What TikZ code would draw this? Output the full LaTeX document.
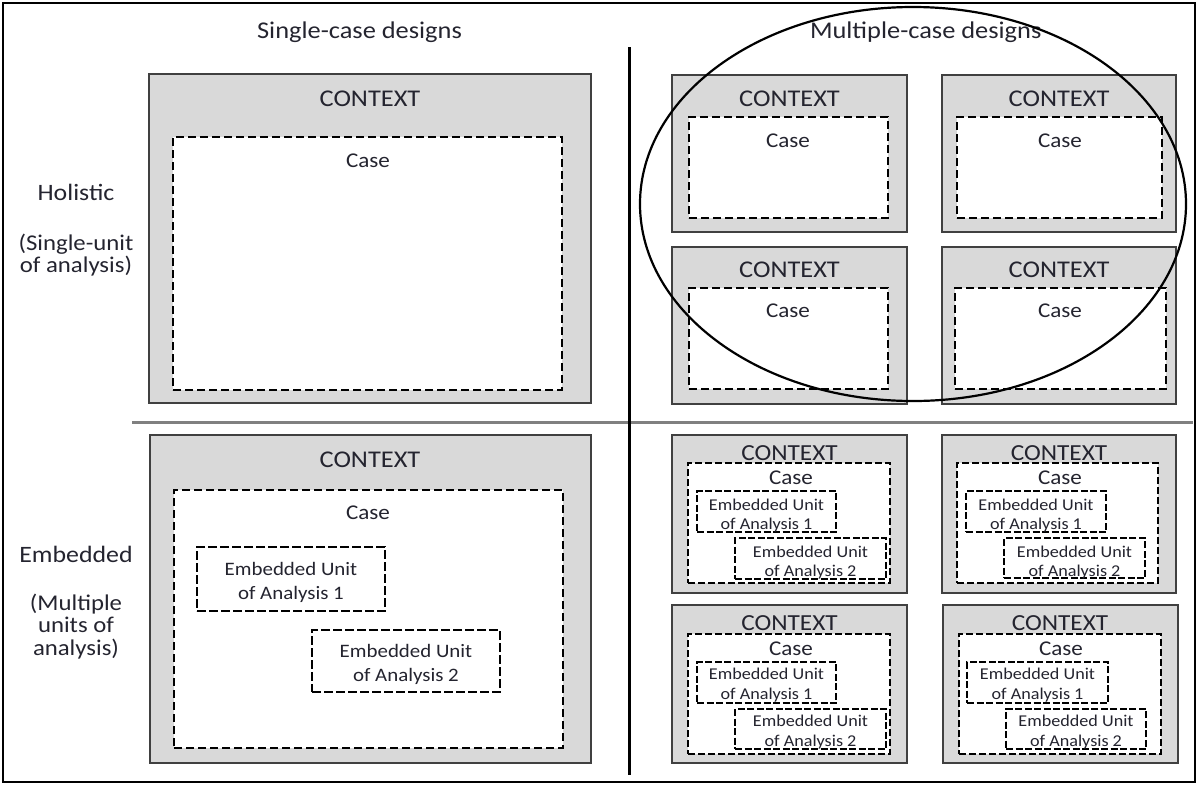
\documentclass[tikz,border=0pt]{standalone}
\usepackage{fontspec}
\setmainfont{Carlito}[FakeStretch=1.1]
\usetikzlibrary{fit,shapes.geometric}

\definecolor{ctxgray}{HTML}{D9D9D9}
\definecolor{edgegray}{HTML}{404040}
\definecolor{inkdark}{HTML}{24242F}
\definecolor{rulegray}{HTML}{808080}

\newcommand\fsz[1]{\fontsize{#1}{#1}\selectfont}

\tikzset{
  frame/.style={draw=black, line width=2pt, inner sep=0pt},
  ctxbox/.style={draw=edgegray, fill=ctxgray, line width=2pt, inner sep=0pt},
  casebox/.style={draw=black, fill=white, line width=1.6pt, dash pattern=on 8pt off 4pt, inner sep=0pt},
  smallcase/.style={casebox, line width=1.4pt, dash pattern=on 7pt off 3pt},
  unitbox/.style={draw=black, line width=1.4pt, dash pattern=on 9pt off 3pt, inner sep=0pt},
  smallunit/.style={unitbox, line width=1.2pt, dash pattern=on 7pt off 2.5pt},
  lbl/.style={inner sep=0pt, anchor=base, text=inkdark},
  heading/.style={lbl, font=\fsz{24}},
  side/.style={lbl, font=\fsz{23.5}},
  sideblock/.style={inner sep=0pt, anchor=center, text=inkdark, align=center,
                    font=\fontsize{22.5}{22.5}\selectfont},
  ctxtext/.style={lbl, font=\fsz{24}},
  smallctx/.style={lbl, font=\fsz{23}},
  casetext/.style={lbl, font=\fsz{21}},
  unittext/.style={lbl, font=\fsz{19}},
  smallunittext/.style={lbl, font=\fsz{16.5}},
  groupring/.style={draw=black, ellipse, line width=2.2pt, inner sep=0pt,
                    minimum width=546pt, minimum height=394pt},
}

\begin{document}
\begin{tikzpicture}[x=1pt,y=-1pt]
\useasboundingbox (0,0) rectangle (1197,785);

% outer frame and the two dividing rules
\node[frame, fit={(3,3)(1195,782)}] (frame) {};
\coordinate (hl) at (132,422);
\coordinate (hr) at (1193,422);
\coordinate (vt) at (629,47);
\coordinate (vb) at (629,775);
\draw[rulegray, line width=3pt] (hl) -- (hr);
\draw[black, line width=3pt] (vt) -- (vb);

% column headings and row labels
\node[heading] (h-single) at (359.5,38.5) {Single-case designs};
\node[heading] (h-multi) at (925.7,38.5) {Multiple-case designs};

\node[side] (r-hol) at (76,200) {Holistic};
\node[sideblock] (r-hol-note) at (76,255) {(Single-unit\\of analysis)};
\node[side] (r-emb) at (76,562) {Embedded};
\node[sideblock] (r-emb-note) at (76,626.5) {(Multiple\\units of\\analysis)};

% ---- single-case, holistic
\node[ctxbox, fit={(149,74)(591,403)}] (sh) {};
\node[casebox, fit={(173,137)(562,390)}] (sh-case) {};
\node[ctxtext] (sh-ctx-t) at (370,106.7) {CONTEXT};
\node[casetext] (sh-case-t) at (368,167.7) {Case};

% ---- multiple-case, holistic
\node[ctxbox, fit={(672,75)(907,232)}] (mh1) {};
\node[casebox, fit={(689,117)(888,218)}] (mh1-case) {};
\node[ctxtext] (mh1-ctx-t) at (789.5,106.7) {CONTEXT};
\node[casetext] (mh1-case-t) at (788,147.3) {Case};

\node[ctxbox, fit={(942,75)(1176,232)}] (mh2) {};
\node[casebox, fit={(957,117)(1162,218)}] (mh2-case) {};
\node[ctxtext] (mh2-ctx-t) at (1059,106.7) {CONTEXT};
\node[casetext] (mh2-case-t) at (1060,147.3) {Case};

\node[ctxbox, fit={(672,247)(907,404)}] (mh3) {};
\node[casebox, fit={(689,288)(888,389)}] (mh3-case) {};
\node[ctxtext] (mh3-ctx-t) at (789.5,277.7) {CONTEXT};
\node[casetext] (mh3-case-t) at (788,317.3) {Case};

\node[ctxbox, fit={(942,247)(1176,404)}] (mh4) {};
\node[casebox, fit={(955,288)(1166,389)}] (mh4-case) {};
\node[ctxtext] (mh4-ctx-t) at (1059,277.7) {CONTEXT};
\node[casetext] (mh4-case-t) at (1060,317.3) {Case};

% ---- single-case, embedded
\node[ctxbox, fit={(150,435)(591,763)}] (se) {};
\node[casebox, fit={(174,490)(563,748)}] (se-case) {};
\node[ctxtext] (se-ctx-t) at (370,467.3) {CONTEXT};
\node[casetext] (se-case-t) at (368,519) {Case};
\node[unitbox, fit={(197,547)(385,611)}] (se-u1) {};
\node[unittext] (se-u1-a) at (291,575.7) {Embedded Unit};
\node[unittext] (se-u1-b) at (291,599.3) {of Analysis 1};
\node[unitbox, fit={(312,630)(500,692)}] (se-u2) {};
\node[unittext] (se-u2-a) at (406,657.7) {Embedded Unit};
\node[unittext] (se-u2-b) at (406,681.7) {of Analysis 2};

% ---- multiple-case, embedded
\node[ctxbox, fit={(672,435)(907,593)}] (me1) {};
\node[smallcase, fit={(688,463)(890,583)}] (me1-case) {};
\node[smallctx] (me1-ctx-t) at (789.5,460.7) {CONTEXT};
\node[casetext] (me1-case-t) at (791,484.3) {Case};
\node[smallunit, fit={(697,491)(836,532)}] (me1-u1) {};
\node[smallunittext] (me1-u1-a) at (766.5,510) {Embedded Unit};
\node[smallunittext] (me1-u1-b) at (766.5,529) {of Analysis 1};
\node[smallunit, fit={(735,538)(886,579)}] (me1-u2) {};
\node[smallunittext] (me1-u2-a) at (810.5,557.3) {Embedded Unit};
\node[smallunittext] (me1-u2-b) at (810.5,576.7) {of Analysis 2};

\node[ctxbox, fit={(942,435)(1176,593)}] (me2) {};
\node[smallcase, fit={(957,463)(1158,583)}] (me2-case) {};
\node[smallctx] (me2-ctx-t) at (1059,460.7) {CONTEXT};
\node[casetext] (me2-case-t) at (1060,484.3) {Case};
\node[smallunit, fit={(966,491)(1106,532)}] (me2-u1) {};
\node[smallunittext] (me2-u1-a) at (1036,510) {Embedded Unit};
\node[smallunittext] (me2-u1-b) at (1036,529) {of Analysis 1};
\node[smallunit, fit={(1004,538)(1145,578)}] (me2-u2) {};
\node[smallunittext] (me2-u2-a) at (1074.5,557.3) {Embedded Unit};
\node[smallunittext] (me2-u2-b) at (1074.5,576.7) {of Analysis 2};

\node[ctxbox, fit={(672,605)(907,763)}] (me3) {};
\node[smallcase, fit={(688,634)(890,754)}] (me3-case) {};
\node[smallctx] (me3-ctx-t) at (789.5,630) {CONTEXT};
\node[casetext] (me3-case-t) at (791,655) {Case};
\node[smallunit, fit={(697,662)(836,703)}] (me3-u1) {};
\node[smallunittext] (me3-u1-a) at (766.5,679.3) {Embedded Unit};
\node[smallunittext] (me3-u1-b) at (766.5,699.3) {of Analysis 1};
\node[smallunit, fit={(735,709)(886,749)}] (me3-u2) {};
\node[smallunittext] (me3-u2-a) at (810.5,726) {Embedded Unit};
\node[smallunittext] (me3-u2-b) at (810.5,746.7) {of Analysis 2};

\node[ctxbox, fit={(943,605)(1178,763)}] (me4) {};
\node[smallcase, fit={(959,634)(1161,754)}] (me4-case) {};
\node[smallctx] (me4-ctx-t) at (1060,630) {CONTEXT};
\node[casetext] (me4-case-t) at (1061,655) {Case};
\node[smallunit, fit={(967,662)(1108,703)}] (me4-u1) {};
\node[smallunittext] (me4-u1-a) at (1037.5,679.3) {Embedded Unit};
\node[smallunittext] (me4-u1-b) at (1037.5,699.3) {of Analysis 1};
\node[smallunit, fit={(1006,709)(1146,749)}] (me4-u2) {};
\node[smallunittext] (me4-u2-a) at (1076,726) {Embedded Unit};
\node[smallunittext] (me4-u2-b) at (1076,746.7) {of Analysis 2};

% ring around the four holistic multiple cases
\node[groupring] (ring) at (913,204) {};
\end{tikzpicture}
\end{document}
